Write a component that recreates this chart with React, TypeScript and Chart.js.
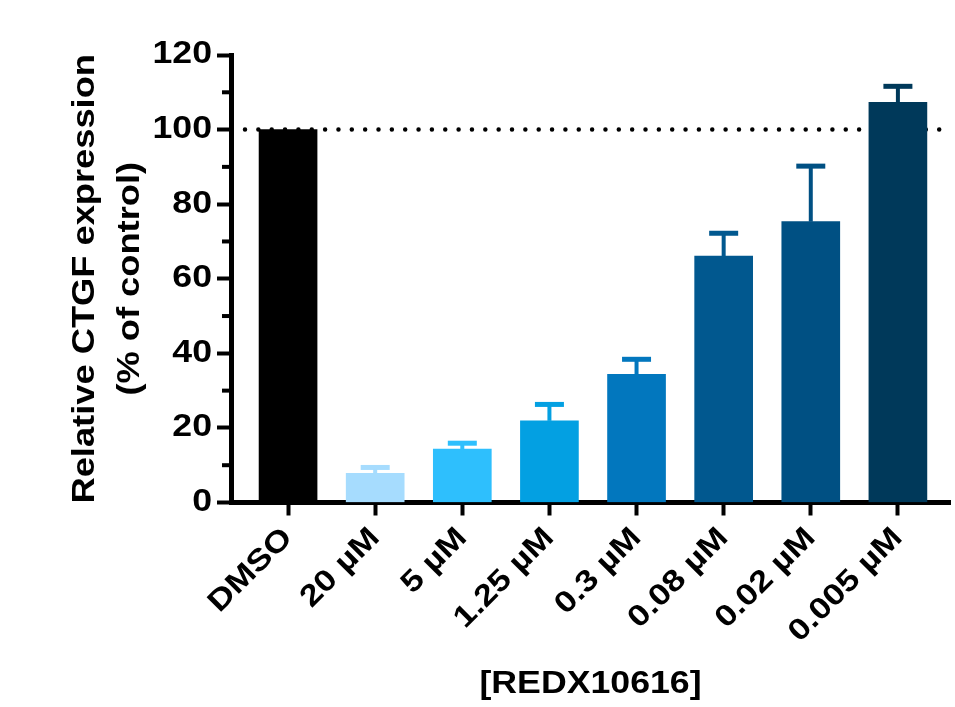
import React, { useEffect, useRef } from "react";
import { Chart, registerables } from "chart.js";

Chart.register(...registerables);

const categories = ["DMSO", "20 µM", "5 µM", "1.25 µM", "0.3 µM", "0.08 µM", "0.02 µM", "0.005 µM"];
const means = [100, 7.8, 14.3, 21.9, 34.4, 66.1, 75.3, 107.3];
const errorsUp = [0, 1.6, 1.6, 4.4, 4.0, 6.1, 14.9, 4.3];
const barColors = ["#000000", "#a6dcfe", "#2ebffd", "#03a0e2", "#0277be", "#01588f", "#005083", "#00395a"];
const yTicks = [0, 20, 40, 60, 80, 100, 120];
const yMinorTicks = [10, 30, 50, 70, 90, 110];
const referenceValue = 100;
const xTitle = "[REDX10616]";
const yTitle = ["Relative CTGF expression", "(% of control)"];

const FONT = "'Liberation Sans', Arial, Helvetica, sans-serif";
// horizontal stretch of the glyphs (the original uses a wide-set bold sans)
const TEXT_STRETCH = 1.17;

function stretchText(ctx: any) {
  if (ctx.__stretched) return;
  ctx.__stretched = true;
  const origFill = ctx.fillText.bind(ctx);
  const origMeasure = ctx.measureText.bind(ctx);
  ctx.fillText = (text: string, x: number, y: number, maxWidth?: number) => {
    ctx.save();
    ctx.translate(x, y);
    ctx.scale(TEXT_STRETCH, 1);
    if (maxWidth !== undefined) origFill(text, 0, 0, maxWidth / TEXT_STRETCH);
    else origFill(text, 0, 0);
    ctx.restore();
  };
  ctx.measureText = (text: string) => {
    const m = origMeasure(text);
    return {
      width: m.width * TEXT_STRETCH,
      actualBoundingBoxLeft: m.actualBoundingBoxLeft * TEXT_STRETCH,
      actualBoundingBoxRight: m.actualBoundingBoxRight * TEXT_STRETCH,
      actualBoundingBoxAscent: m.actualBoundingBoxAscent,
      actualBoundingBoxDescent: m.actualBoundingBoxDescent,
      fontBoundingBoxAscent: m.fontBoundingBoxAscent,
      fontBoundingBoxDescent: m.fontBoundingBoxDescent,
    };
  };
}

const overlayPlugin = {
  id: "overlay",
  beforeDatasetsDraw(chart: any) {
    const { ctx, scales } = chart;
    const y = scales.y.getPixelForValue(referenceValue);
    ctx.save();
    ctx.strokeStyle = "#000";
    ctx.lineWidth = 4.5;
    ctx.lineCap = "round";
    ctx.setLineDash([0, 13.35]);
    ctx.beginPath();
    ctx.moveTo(245, y);
    ctx.lineTo(chart.chartArea.right, y);
    ctx.stroke();
    ctx.restore();
  },
  afterDatasetsDraw(chart: any) {
    const { ctx, scales } = chart;
    ctx.save();
    means.forEach((m, i) => {
      const e = errorsUp[i];
      if (!e) return;
      const x = scales.x.getPixelForValue(i);
      const y0 = scales.y.getPixelForValue(m);
      const y1 = scales.y.getPixelForValue(m + e);
      ctx.strokeStyle = barColors[i];
      ctx.lineCap = "butt";
      ctx.lineWidth = 4;
      ctx.beginPath();
      ctx.moveTo(x, y0);
      ctx.lineTo(x, y1);
      ctx.stroke();
      ctx.lineWidth = 5;
      ctx.beginPath();
      ctx.moveTo(x - 14.5, y1);
      ctx.lineTo(x + 14.5, y1);
      ctx.stroke();
    });
    ctx.restore();
  },
  afterDraw(chart: any) {
    const { ctx, scales } = chart;
    const left = chart.chartArea.left;
    ctx.save();
    ctx.strokeStyle = "#000";
    ctx.lineWidth = 4;
    yMinorTicks.forEach((v) => {
      const y = scales.y.getPixelForValue(v);
      ctx.beginPath();
      ctx.moveTo(left - 9, y);
      ctx.lineTo(left, y);
      ctx.stroke();
    });
    ctx.restore();
  },
};

export default function App() {
  const canvasRef = useRef<HTMLCanvasElement | null>(null);

  useEffect(() => {
    const canvas = canvasRef.current;
    if (!canvas) return;
    const ctx2d = canvas.getContext("2d");
    if (ctx2d) stretchText(ctx2d);
    const chart = new Chart(canvas, {
      type: "bar",
      data: {
        datasets: [
          {
            data: means.map((v, i) => ({ x: i, y: v })),
            backgroundColor: barColors,
            borderWidth: 0,
            barThickness: 58,
          },
        ],
      },
      options: {
        animation: false,
        responsive: true,
        maintainAspectRatio: false,
        layout: { padding: { top: 55, right: 5, left: 0, bottom: 0 } },
        plugins: { legend: { display: false }, tooltip: { enabled: false } },
        scales: {
          x: {
            type: "linear",
            offset: false,
            min: -0.655,
            max: 7.598,
            afterBuildTicks: (s: any) => {
              s.ticks = categories.map((_, i) => ({ value: i }));
            },
            afterFit: (s: any) => {
              s.height = 204.5;
            },
            grid: {
              offset: false,
              drawOnChartArea: false,
              drawTicks: true,
              tickLength: 13,
              tickWidth: 4,
              tickColor: "#000",
            },
            border: { display: true, width: 5, color: "#000" },
            ticks: {
              autoSkip: false,
              minRotation: 45,
              maxRotation: 45,
              padding: 5,
              color: "#000",
              font: { family: FONT, size: 30, weight: "bold" },
              callback: (v: any) => categories[Math.round(Number(v))] ?? "",
            },
            title: {
              display: true,
              text: xTitle,
              color: "#000",
              font: { family: FONT, size: 30.5, weight: "bold", lineHeight: 1 },
              padding: { top: 0, bottom: 7.5 },
            },
          },
          y: {
            min: 0,
            max: 120,
            afterBuildTicks: (s: any) => {
              s.ticks = yTicks.map((v) => ({ value: v }));
            },
            afterFit: (s: any) => {
              s.width = 231;
            },
            grid: {
              drawOnChartArea: false,
              drawTicks: true,
              tickLength: 14,
              tickWidth: 4,
              tickColor: "#000",
            },
            border: { display: true, width: 5, color: "#000" },
            ticks: {
              padding: 5,
              color: "#000",
              font: { family: FONT, size: 30.5, weight: "bold" },
            },
            title: {
              display: true,
              text: yTitle,
              color: "#000",
              font: { family: FONT, size: 31, weight: "bold", lineHeight: 1.45 },
              padding: { top: 63, bottom: 0 },
            },
          },
        },
      },
      plugins: [overlayPlugin],
    });
    return () => chart.destroy();
  }, []);

  return (
    <div style={{ position: "absolute", left: 0, top: 0, width: 955, height: 707, background: "#fff" }}>
      <canvas ref={canvasRef} />
    </div>
  );
}
